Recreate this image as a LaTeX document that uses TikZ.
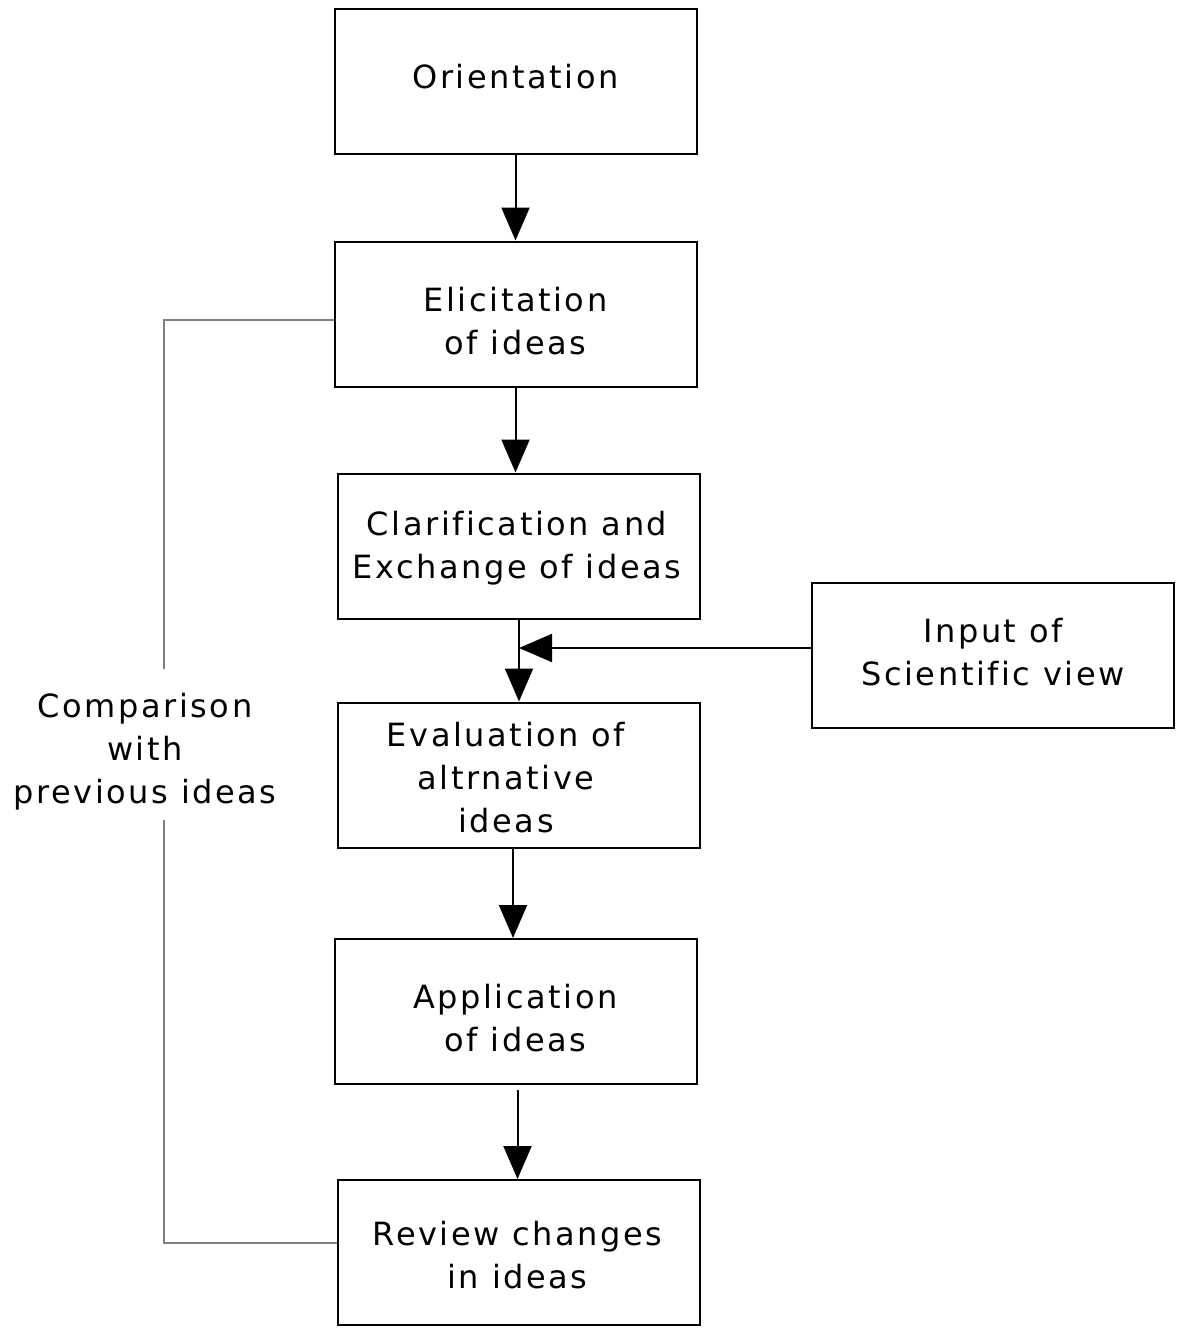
\documentclass[tikz,border=0pt]{standalone}
\usepackage{fontspec}
\setmainfont{DejaVu Sans}[LetterSpace=8, Ligatures=NoCommon]
\usepackage{tikz}
\usetikzlibrary{arrows.meta}

\begin{document}
\begin{tikzpicture}[
	x=0.5pt, y=-0.5pt,
	font=\fontsize{16}{21.5}\selectfont,
	box/.style={rectangle, draw, line width=1pt, minimum width=181pt, minimum height=72.5pt},
	txt/.style={align=center},
	arr/.style={line width=1pt, -{Triangle[width=14pt, length=16.5pt]}},
	fb/.style={draw=gray, line width=0.6pt}
]
	\useasboundingbox (0,0) rectangle (1181,1333);

	\node[box] (ori) at (515.5, 81.5) {};
	\node[box] (elic) at (515.5, 314) {};
	\node[box] (clar) at (519, 546) {};
	\node[box] (eval) at (519, 775) {};
	\node[box] (app) at (515.5, 1011.5) {};
	\node[box] (rev) at (519, 1252.5) {};
	\node[box] (inp) at (993, 655) {};

	\node[txt] (oriT) at (515.5, 76.5) {Orientation};
	\node[txt] (elicT) at (515.5, 321) {Elicitation\\of ideas};
	\node[txt] (clarT) at (517, 548) {Clarification and\\Exchange of ideas};
	\node[txt] (evalT) at (506, 778) {Evaluation of\\altrnative\\ideas};
	\node[txt] (appT) at (515.5, 1018.5) {Application\\of ideas};
	\node[txt] (revT) at (517.5, 1255.5) {Review changes\\in ideas};
	\node[txt] (inpT) at (993, 652) {Input of\\Scientific view};
	\node[txt] (cmp) at (145, 752) {Comparison\\with\\previous ideas};

	\coordinate (join) at (519, 648);

	\draw[arr] (ori.south) -- (elic.north);
	\draw[arr] (elic.south) -- (elic.south |- clar.north);
	\draw[arr] (clar.south) -- (eval.north);
	\draw[arr] (inp.west |- join) -- (join);
	\draw[arr] ([xshift=-3pt]eval.south) -- ([xshift=-3pt]eval.south |- app.north);
	\draw[arr] ([yshift=-2.5pt, xshift=1pt]app.south) -- ([xshift=1pt]app.south |- rev.north);

	\draw[fb] ([yshift=-3pt]elic.west) -| ([xshift=9.5pt, yshift=8.5pt]cmp.north);
	\draw[fb] ([xshift=9.5pt, yshift=-1pt]cmp.south) |- ([yshift=4.75pt]rev.west);
\end{tikzpicture}
\end{document}
